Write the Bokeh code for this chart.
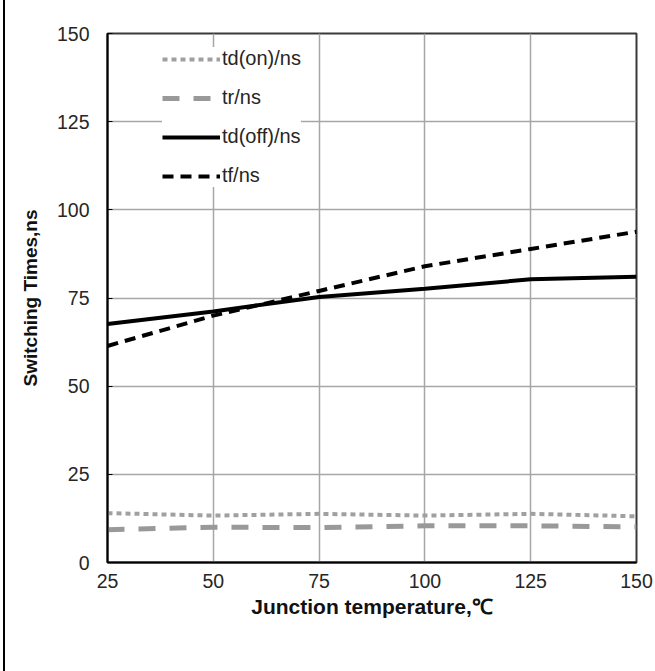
from bokeh.plotting import figure
from bokeh.models import Legend, LegendItem, FixedTicker
from bokeh.embed import file_html
from bokeh.resources import INLINE

# Junction temperature (°C)
temps = [25, 50, 75, 100, 125, 150]

# Switching times (ns)
td_on = [14.0, 13.3, 13.8, 13.3, 13.8, 13.1]
tr = [9.3, 10.0, 9.9, 10.4, 10.4, 10.1]
td_off = [67.6, 71.2, 75.3, 77.6, 80.3, 81.0]
tf = [61.4, 70.0, 77.0, 84.0, 88.9, 93.8]

x_ticks = [25, 50, 75, 100, 125, 150]
y_ticks = [0, 25, 50, 75, 100, 125, 150]

FONT = "Liberation Sans"

p = figure(
    width=650, height=671,
    x_range=(25, 150), y_range=(0, 150),
    output_backend="svg", toolbar_location=None,
    min_border_left=102, min_border_right=19,
    min_border_top=33, min_border_bottom=109,
)
p.styles = {"border-left": "2px solid #000000", "margin-left": "3px"}

p.outline_line_color = "#3a3a3a"
p.outline_line_width = 2

p.xgrid.grid_line_color = "#a6a6a6"
p.ygrid.grid_line_color = "#a6a6a6"
p.xgrid.grid_line_width = 1.5
p.ygrid.grid_line_width = 1.5

p.xaxis.ticker = FixedTicker(ticks=x_ticks)
p.yaxis.ticker = FixedTicker(ticks=y_ticks)

for ax in (p.xaxis, p.yaxis):
    ax.axis_line_color = "#000000"
    ax.axis_line_width = 2
    ax.minor_tick_line_color = None
    ax.major_label_text_font = FONT
    ax.major_label_text_font_size = "19.5px"
    ax.major_label_text_color = "#262626"
    ax.axis_label_text_font = FONT
    ax.axis_label_text_font_style = "bold"
    ax.axis_label_text_color = "#111111"

p.xaxis.major_tick_in = 0
p.xaxis.major_tick_out = 0
p.xaxis.major_label_standoff = 11
p.xaxis.axis_label = "Junction temperature,℃"
p.xaxis.axis_label_text_font_size = "21px"
p.xaxis.axis_label_standoff = 4

p.yaxis.major_tick_in = 5
p.yaxis.major_tick_out = 0
p.yaxis.major_tick_line_color = "#000000"
p.yaxis.major_label_standoff = 18
p.yaxis.axis_label = "Switching Times,ns"
p.yaxis.axis_label_text_font_size = "19px"
p.yaxis.axis_label_standoff = 13

r_on = p.line(temps, td_on, line_color="#a0a0a0", line_width=4,
              line_dash="5 4")
r_tr = p.line(temps, tr, line_color="#999999", line_width=5,
              line_dash="17 14")
r_off = p.line(temps, td_off, line_color="#000000", line_width=4)
r_tf = p.line(temps, tf, line_color="#000000", line_width=4,
              line_dash="11 7")

legend = Legend(
    items=[
        LegendItem(label="td(on)/ns", renderers=[r_on]),
        LegendItem(label="tr/ns", renderers=[r_tr]),
        LegendItem(label="td(off)/ns", renderers=[r_off]),
        LegendItem(label="tf/ns", renderers=[r_tf]),
    ],
    location=(55, 375),
    orientation="vertical",
    glyph_width=58, glyph_height=22,
    label_height=22, spacing=16, padding=12,
    label_standoff=2,
    label_text_font=FONT, label_text_font_size="20px",
    label_text_color="#262626",
    border_line_color=None,
    background_fill_color="#ffffff", background_fill_alpha=1.0,
    margin=0,
)
p.add_layout(legend, "center")

open("out.html", "w").write(file_html(p, INLINE))
